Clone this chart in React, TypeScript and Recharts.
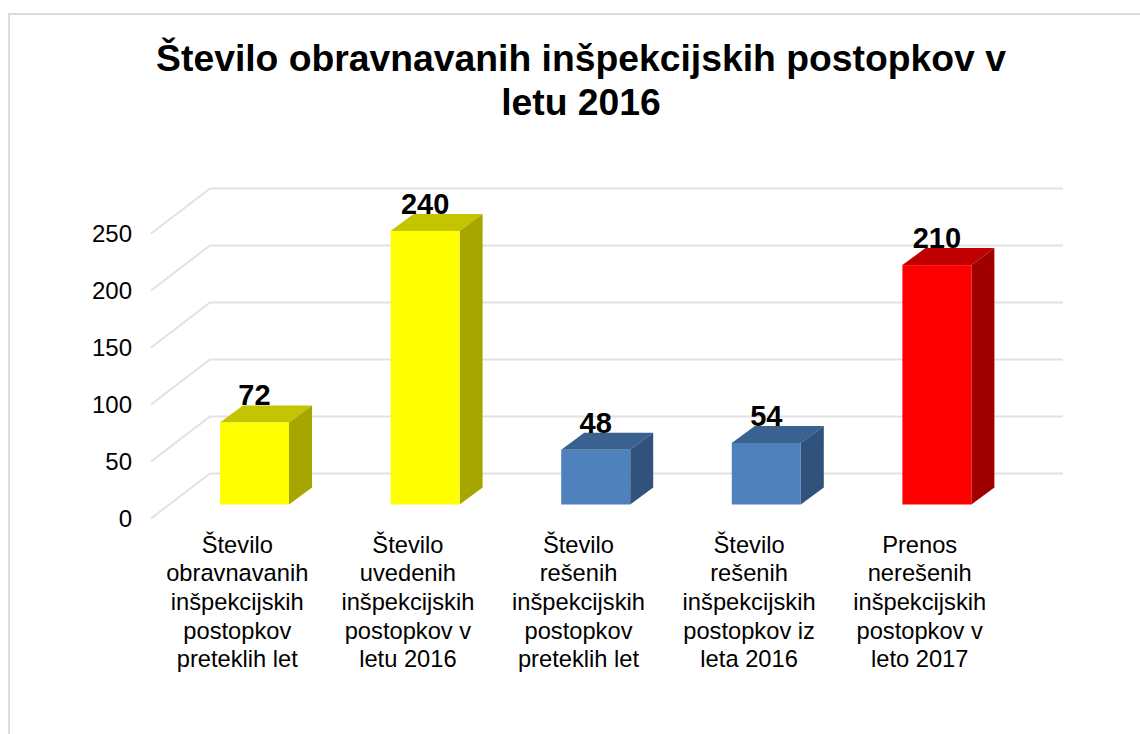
import React from 'react';
import { BarChart, Bar, XAxis, YAxis, CartesianGrid, LabelList } from 'recharts';

const categories = [
  'Število\nobravnavanih\ninšpekcijskih\npostopkov\npreteklih let',
  'Število\nuvedenih\ninšpekcijskih\npostopkov v\nletu 2016',
  'Število\nrešenih\ninšpekcijskih\npostopkov\npreteklih let',
  'Število\nrešenih\ninšpekcijskih\npostopkov iz\nleta 2016',
  'Prenos\nnerešenih\ninšpekcijskih\npostopkov v\nleto 2017',
];
const values = [72, 240, 48, 54, 210];
const frontColors = ['#ffff00', '#ffff00', '#4f81bd', '#4f81bd', '#ff0000'];
const topColors = ['#c4c400', '#c4c400', '#3a6290', '#3a6290', '#c00000'];
const sideColors = ['#a6a600', '#a6a600', '#31527a', '#31527a', '#a00000'];
const yTicks = [0, 50, 100, 150, 200, 250];
const titleLines = ['Število obravnavanih inšpekcijskih postopkov v', 'letu 2016'];

const data = categories.map((name, i) => ({ name, value: values[i], index: i }));

const FONT = '"Liberation Sans", Arial, sans-serif';
// fake 3D depth of the bars and of the floor/back wall
const BAR_DX = 23;
const BAR_DY = 17;

// grid line that runs along the left wall and then along the back wall
const renderGridLine = (props: any) => {
  const { x2, y1, index } = props;
  const points = `151,${y1 + 14} 210,${y1 - 31} ${x2 + 41},${y1 - 31}`;
  return <polyline key={`grid-${index}`} points={points} fill="none" stroke="#e2e2e2" strokeWidth={2} />;
};

const Bar3D = (props: any) => {
  const { x, y, width, height, index } = props;
  const right = x + width;
  const bottom = y + height;
  return (
    <g>
      <polygon
        points={`${x},${y} ${x + BAR_DX},${y - BAR_DY} ${right + BAR_DX},${y - BAR_DY} ${right},${y}`}
        fill={topColors[index]}
      />
      <polygon
        points={`${right},${y} ${right + BAR_DX},${y - BAR_DY} ${right + BAR_DX},${bottom - BAR_DY} ${right},${bottom}`}
        fill={sideColors[index]}
      />
      <rect x={x} y={y} width={width} height={height} fill={frontColors[index]} />
    </g>
  );
};

const YTick = (props: any) => {
  const { x, y, payload } = props;
  return (
    <text x={x - 31} y={y + 22.5} textAnchor="end" fontFamily={FONT} fontSize={24} fill="#000">
      {payload.value}
    </text>
  );
};

const XTick = (props: any) => {
  const { x, payload } = props;
  const lines = String(payload.value).split('\n');
  return (
    <text textAnchor="middle" fontFamily={FONT} fontSize={23.7} fill="#000">
      {lines.map((line, i) => (
        <tspan key={i} x={x - 17} y={552.5 + i * 28.7}>
          {line}
        </tspan>
      ))}
    </text>
  );
};

const BarValue = (props: any) => {
  const { x, y, width, value } = props;
  return (
    <text x={x + width / 2} y={y - 17} textAnchor="middle" fontFamily={FONT} fontSize={29} fontWeight="bold" fill="#000">
      {value}
    </text>
  );
};

export default function App() {
  return (
    <div style={{ position: 'absolute', left: 0, top: 0, width: 1140, height: 734, background: '#fff', overflow: 'hidden' }}>
      <div
        style={{
          position: 'absolute',
          left: 8,
          top: 13,
          width: 1132,
          height: 721,
          borderTop: '2px solid #dcdcdc',
          borderLeft: '2px solid #dcdcdc',
          boxSizing: 'border-box',
        }}
      />
      <div
        style={{
          position: 'absolute',
          left: 0,
          top: 37,
          width: 1162,
          textAlign: 'center',
          fontFamily: FONT,
          fontSize: 37.3,
          fontWeight: 'bold',
          lineHeight: '43.5px',
          color: '#000',
        }}
      >
        {titleLines.map((line) => (
          <div key={line}>{line}</div>
        ))}
      </div>
      <div style={{ position: 'absolute', left: 0, top: 0 }}>
        <BarChart
          width={1140}
          height={734}
          data={data}
          margin={{ top: 219.5, right: 118, left: 69, bottom: 129.5 }}
          barSize={69}
        >
          <CartesianGrid vertical={false} horizontal={renderGridLine} />
          <XAxis dataKey="name" axisLine={false} tickLine={false} height={100} interval={0} tick={<XTick />} />
          <YAxis
            domain={[0, 250]}
            ticks={yTicks}
            width={100}
            axisLine={false}
            tickLine={false}
            tickMargin={0}
            tick={<YTick />}
          />
          <Bar dataKey="value" shape={<Bar3D />} isAnimationActive={false}>
            <LabelList dataKey="value" content={<BarValue />} />
          </Bar>
        </BarChart>
      </div>
    </div>
  );
}
